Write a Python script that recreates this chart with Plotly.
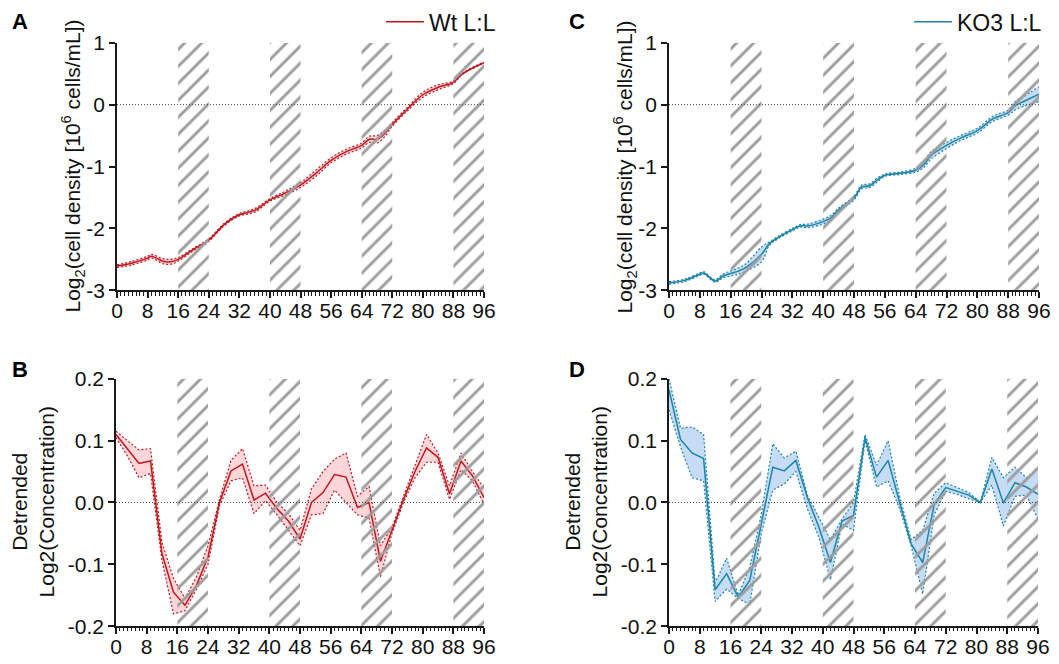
import plotly.graph_objects as go

W, H = 1059, 664

# ---------------- data ----------------
night_starts = [16, 40, 64, 88]
night_len = 8

wt_t = [0, 4, 8, 9, 12, 14, 16, 20, 24, 28, 32, 36, 40, 44, 48, 52, 56, 60, 64, 66, 68, 70, 72, 76, 80, 84, 88, 90, 92, 96]
wt_mean = [-2.61, -2.56, -2.48, -2.45, -2.53, -2.54, -2.50, -2.34, -2.19, -1.94, -1.78, -1.71, -1.54, -1.43, -1.30,
           -1.11, -0.90, -0.76, -0.66, -0.56, -0.56, -0.47, -0.32, -0.07, 0.16, 0.28, 0.36, 0.48, 0.56, 0.68]
wt_sd = [0.02, 0.03, 0.03, 0.03, 0.04, 0.04, 0.03, 0.02, 0.02, 0.02, 0.02, 0.03, 0.02, 0.03, 0.04,
         0.05, 0.04, 0.04, 0.04, 0.05, 0.06, 0.05, 0.03, 0.03, 0.04, 0.04, 0.02, 0.01, 0.01, 0.01]

ko_t = [0, 4, 8, 9, 12, 14, 16, 18, 20, 24, 26, 28, 32, 34, 36, 40, 42, 44, 48, 50, 52, 54, 56, 60, 64, 66, 68,
        72, 76, 80, 84, 86, 88, 90, 92, 96]
ko_mean = [-2.88, -2.84, -2.74, -2.72, -2.85, -2.77, -2.73, -2.69, -2.63, -2.42, -2.25, -2.16, -2.02, -1.96, -1.96,
           -1.89, -1.83, -1.70, -1.51, -1.33, -1.31, -1.22, -1.14, -1.11, -1.06, -0.98, -0.82, -0.66, -0.53, -0.42,
           -0.23, -0.18, -0.13, -0.01, 0.05, 0.17]
ko_sd = [0.02, 0.02, 0.02, 0.02, 0.02, 0.03, 0.04, 0.05, 0.06, 0.12, 0.03, 0.02, 0.02, 0.02, 0.03, 0.04, 0.04,
         0.03, 0.03, 0.03, 0.03, 0.03, 0.02, 0.02, 0.03, 0.04, 0.06, 0.05, 0.04, 0.04, 0.04, 0.04, 0.04, 0.07,
         0.08, 0.12]

det_t = [0, 3, 6, 9, 12, 15, 18, 21, 24, 27, 30, 33, 36, 39, 42, 45, 48, 51, 54, 57, 60, 63, 66, 69, 72, 75,
         78, 81, 84, 87, 90, 93, 96]

wt_det_mean = [0.110, 0.087, 0.063, 0.067, -0.083, -0.145, -0.166, -0.134, -0.088, 0.000, 0.051, 0.062, 0.004,
               0.015, -0.010, -0.030, -0.059, 0.000, 0.016, 0.045, 0.041, -0.008, 0.000, -0.095, -0.045, 0.005,
               0.050, 0.088, 0.073, 0.014, 0.067, 0.043, 0.008]
wt_det_upper = [0.115, 0.100, 0.085, 0.087, -0.065, -0.123, -0.155, -0.120, -0.070, 0.005, 0.068, 0.087, 0.027,
                0.028, 0.000, -0.018, -0.045, 0.022, 0.050, 0.070, 0.080, 0.010, 0.026, -0.070, -0.040, 0.010,
                0.060, 0.110, 0.080, 0.027, 0.080, 0.050, 0.023]
wt_det_lower = [0.105, 0.075, 0.040, 0.047, -0.094, -0.180, -0.175, -0.140, -0.100, -0.005, 0.035, 0.040, -0.018,
                0.003, -0.020, -0.045, -0.070, -0.020, -0.018, 0.020, 0.000, -0.020, -0.025, -0.120, -0.050, 0.000,
                0.040, 0.065, 0.065, 0.005, 0.053, 0.035, -0.003]

ko_det_mean = [0.182, 0.102, 0.080, 0.071, -0.141, -0.115, -0.153, -0.126, -0.035, 0.057, 0.051, 0.068, 0.008,
               -0.040, -0.097, -0.030, -0.021, 0.105, 0.041, 0.068, 0.000, -0.067, -0.097, -0.003, 0.024, 0.018,
               0.012, 0.000, 0.054, -0.001, 0.032, 0.025, 0.013]
ko_det_upper = [0.200, 0.120, 0.122, 0.110, -0.130, -0.090, -0.150, -0.105, -0.020, 0.095, 0.072, 0.083, 0.012,
                -0.024, -0.060, -0.027, 0.000, 0.110, 0.060, 0.100, 0.010, -0.060, -0.045, 0.015, 0.032, 0.024,
                0.016, 0.000, 0.073, 0.040, 0.057, 0.040, 0.055]
ko_det_lower = [0.150, 0.090, 0.040, 0.035, -0.160, -0.140, -0.155, -0.165, -0.050, 0.020, 0.030, 0.050, -0.010,
                -0.056, -0.125, -0.035, -0.045, 0.100, 0.025, 0.035, -0.010, -0.070, -0.148, -0.020, 0.018, 0.013,
                0.006, 0.000, 0.028, -0.038, 0.010, 0.012, -0.027]

x_ticks = list(range(0, 97, 8))
growth_range = [-3, 1]
growth_ticks = [-3, -2, -1, 0, 1]
growth_ticktext = ["-3", "-2", "-1", "0", "1"]
det_range = [-0.2, 0.2]
det_ticks = [-0.2, -0.1, 0.0, 0.1, 0.2]
det_ticktext = ["-0.2", "-0.1", "0.0", "0.1", "0.2"]

growth_title = "Log<sub>2</sub>(cell density [10<sup>6</sup> cells/mL])"
det_title = "Detrended<br>Log2(Concentration)"

# ---------------- style ----------------
FONT = "Liberation Sans, Arial, sans-serif"
RED = "#c2161e"
RED_FILL = "#fcd6d8"
BLUE = "#1b84a9"
BLUE_FILL = "#c6dcf5"
HATCH = "#9c9c9c"
AX = "#1a1a1a"


def fx(xr):
    return xr / W


def fy(yr):
    return 1 - yr / H


fig = go.Figure()

panels = [
    dict(letter="A", s="", hs="5", xpx=(117, 484), ypx=(39, 288), kind="growth", t=wt_t, m=wt_mean, sd=wt_sd,
         color=RED, fill=RED_FILL, name="Wt L:L", legend="legend"),
    dict(letter="C", s="2", hs="6", xpx=(669, 1039), ypx=(39, 288), kind="growth", t=ko_t, m=ko_mean, sd=ko_sd,
         color=BLUE, fill=BLUE_FILL, name="KO3 L:L", legend="legend2"),
    dict(letter="B", s="3", hs="7", xpx=(116, 484), ypx=(377, 626), kind="det", t=det_t, m=wt_det_mean,
         up=wt_det_upper, lo=wt_det_lower, color=RED, fill=RED_FILL),
    dict(letter="D", s="4", hs="8", xpx=(669, 1038), ypx=(377, 626), kind="det", t=det_t, m=ko_det_mean,
         up=ko_det_upper, lo=ko_det_lower, color=BLUE, fill=BLUE_FILL),
]

layout = dict(width=W, height=H, margin=dict(l=0, r=0, t=0, b=0), plot_bgcolor="white", paper_bgcolor="white",
              font=dict(family=FONT, size=21, color="#111"), barmode="overlay", shapes=[], annotations=[])

for p in panels:
    s = p["s"]
    xa, ya = "x" + s, "y" + s
    hx, hy = "x" + p["hs"], "y" + p["hs"]
    if p["kind"] == "growth":
        yr, yt, ytt, title = growth_range, growth_ticks, growth_ticktext, growth_title
        upper = [m + d for m, d in zip(p["m"], p["sd"])]
        lower = [m - d for m, d in zip(p["m"], p["sd"])]
        shape = "spline"
    else:
        yr, yt, ytt, title = det_range, det_ticks, det_ticktext, det_title
        upper, lower = p["up"], p["lo"]
        shape = "linear"

    # error band
    fig.add_trace(go.Scatter(x=p["t"], y=upper, mode="lines", xaxis=xa, yaxis=ya, showlegend=False,
                             hoverinfo="skip",
                             line=dict(color=p["color"], width=1.2, dash="2px,2px", shape=shape)))
    fig.add_trace(go.Scatter(x=p["t"], y=lower, mode="lines", xaxis=xa, yaxis=ya, showlegend=False,
                             hoverinfo="skip", fill="tonexty", fillcolor=p["fill"],
                             line=dict(color=p["color"], width=1.2, dash="2px,2px", shape=shape)))
    # mean line
    fig.add_trace(go.Scatter(x=p["t"], y=p["m"], mode="lines", xaxis=xa, yaxis=ya,
                             name=p.get("name", ""), showlegend="name" in p, legend=p.get("legend", "legend"),
                             line=dict(color=p["color"], width=1.5, shape=shape)))
    # night (dark) bands with hatching, on an overlaid subplot so they sit above the data
    fig.add_trace(go.Bar(
        x=[n + night_len / 2 for n in night_starts], y=[yr[1] - yr[0]] * len(night_starts), base=yr[0],
        width=night_len, xaxis=hx, yaxis=hy, showlegend=False, hoverinfo="skip",
        marker=dict(color="rgba(0,0,0,0)", line=dict(width=0),
                    pattern=dict(shape="/", fgcolor=HATCH, fgopacity=1, bgcolor="rgba(0,0,0,0)", size=12,
                                 solidity=0.24, fillmode="overlay"))))

    xdom = [fx(p["xpx"][0]), fx(p["xpx"][1])]
    ydom = [fy(p["ypx"][1]), fy(p["ypx"][0])]
    layout["xaxis" + s] = dict(domain=xdom, anchor=ya, range=[0, 96], tickvals=x_ticks, ticks="outside",
                               ticklen=6, tickwidth=1.5, tickcolor=AX, showline=True, linecolor=AX, linewidth=1.5,
                               showgrid=False, zeroline=False, automargin=False, tickfont=dict(size=21),
                               ticklabelstandoff=-5,
                               minor=dict(dtick=1, tick0=0, ticks="outside", ticklen=3.5, tickwidth=1,
                                          tickcolor=AX, showgrid=False))
    layout["yaxis" + s] = dict(domain=ydom, anchor=xa, range=yr, tickvals=yt, ticktext=ytt, ticks="outside",
                               ticklen=6, tickwidth=1.5, tickcolor=AX, showline=True, linecolor=AX, linewidth=1.5,
                               showgrid=False, zeroline=False, automargin=False, tickfont=dict(size=21))
    layout["xaxis" + p["hs"]] = dict(overlaying=xa, anchor=hy, range=[0, 96], visible=False, showgrid=False,
                                     zeroline=False)
    layout["yaxis" + p["hs"]] = dict(overlaying=ya, anchor=hx, range=yr, visible=False, showgrid=False,
                                     zeroline=False)
    # dotted zero line
    layout["shapes"].append(dict(type="line", xref=xa + " domain", yref=ya, x0=0, x1=1, y0=0, y1=0,
                                 line=dict(color="#444", width=1, dash="1px,2px")))
    # y axis title
    if p["kind"] == "growth":
        tx = p["xpx"][0] - 44
    else:
        tx = p["xpx"][0] - 83
    ty = (p["ypx"][0] + p["ypx"][1]) / 2
    layout["annotations"].append(dict(text=title, x=fx(tx), y=fy(ty), xref="paper", yref="paper",
                                      textangle=-90, showarrow=False, xanchor="center", yanchor="middle",
                                      font=dict(size=21, color="#111")))
    # panel letter
    lx = 20 if p["xpx"][0] < 500 else 577
    ly = 18 if p["ypx"][0] < 300 else 368
    layout["annotations"].append(dict(text="<b>" + p["letter"] + "</b>", x=fx(lx), y=fy(ly),
                                      xref="paper", yref="paper", showarrow=False, xanchor="center",
                                      yanchor="middle", font=dict(size=22, color="#000")))

layout["legend"] = dict(x=fx(381), y=fy(18), xanchor="left", yanchor="middle", bgcolor="rgba(0,0,0,0)",
                        font=dict(size=23, color="#111"), itemwidth=38, tracegroupgap=0)
layout["legend2"] = dict(x=fx(909), y=fy(18), xanchor="left", yanchor="middle", bgcolor="rgba(0,0,0,0)",
                         font=dict(size=23, color="#111"), itemwidth=38, tracegroupgap=0)

fig.update_layout(**layout)
fig.write_html("out.html", config={"displayModeBar": False},
               post_script="document.body.style.margin='0';document.body.style.padding='0';"
                           "document.body.style.overflow='hidden';")
